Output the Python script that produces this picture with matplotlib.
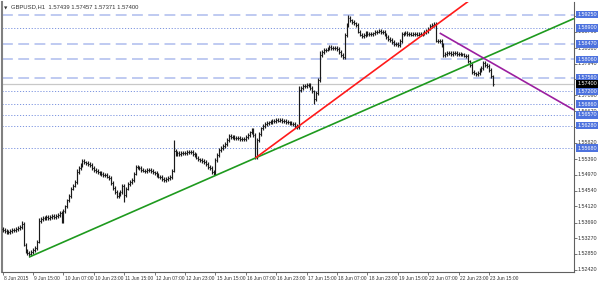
import matplotlib
matplotlib.use("Agg")
import matplotlib.pyplot as plt
import matplotlib.transforms as mtransforms
import numpy as np

plt.rcParams["font.family"] = ["Liberation Sans", "DejaVu Sans"]

# ---------------- data ----------------
closes = [
    1.5349, 1.5346, 1.5343, 1.5344, 1.5347, 1.5350, 1.5349, 1.5352, 1.5355, 1.5357,
    1.5365, 1.5310, 1.5292, 1.5288, 1.5284, 1.5290, 1.5296, 1.5300, 1.5318, 1.5372,
    1.5378, 1.5381, 1.5380, 1.5383, 1.5381, 1.5384, 1.5386, 1.5383, 1.5387, 1.5389,
    1.5394, 1.5373, 1.5400, 1.5412, 1.5428, 1.5440, 1.5460, 1.5468, 1.5478, 1.5505,
    1.5515, 1.5522, 1.5533, 1.5530, 1.5528, 1.5525, 1.5522, 1.5515, 1.5510, 1.5506,
    1.5503, 1.5501, 1.5499, 1.5497, 1.5496, 1.5492, 1.5488, 1.5475, 1.5461, 1.5450,
    1.5440, 1.5445, 1.5450, 1.5466, 1.5442, 1.5460, 1.5472, 1.5478, 1.5482, 1.5500,
    1.5517, 1.5516, 1.5514, 1.5510, 1.5508, 1.5506, 1.5509, 1.5510, 1.5507, 1.5503,
    1.5501, 1.5497, 1.5492, 1.5490, 1.5486, 1.5482, 1.5486, 1.5489, 1.5490, 1.5508,
    1.5560, 1.5552, 1.5555, 1.5553, 1.5556, 1.5554, 1.5555, 1.5558, 1.5557, 1.5557,
    1.5552, 1.5549, 1.5543, 1.5538, 1.5536, 1.5533, 1.5531, 1.5525, 1.5518, 1.5514,
    1.5505, 1.5500, 1.5536, 1.5550, 1.5563, 1.5568, 1.5573, 1.5580, 1.5590, 1.5600,
    1.5598, 1.5597, 1.5596, 1.5594, 1.5595, 1.5593, 1.5592, 1.5592, 1.5598, 1.5603,
    1.5610, 1.5616, 1.5603, 1.5545, 1.5589, 1.5605, 1.5621, 1.5627, 1.5632, 1.5635,
    1.5637, 1.5638, 1.5640, 1.5641, 1.5643, 1.5642, 1.5643, 1.5641, 1.5640, 1.5638,
    1.5637, 1.5636, 1.5634, 1.5632, 1.5628, 1.5624, 1.5723, 1.5730, 1.5734, 1.5735,
    1.5737, 1.5737, 1.5730, 1.5720, 1.5700, 1.5715, 1.5750, 1.5817, 1.5825, 1.5830,
    1.5832, 1.5835, 1.5838, 1.5837, 1.5836, 1.5836, 1.5833, 1.5825, 1.5817, 1.5811,
    1.5870, 1.5897, 1.5916, 1.5910, 1.5905, 1.5902, 1.5897, 1.5880, 1.5872, 1.5868,
    1.5870, 1.5876, 1.5874, 1.5873, 1.5873, 1.5875, 1.5878, 1.5880, 1.5881, 1.5879,
    1.5878, 1.5872, 1.5865, 1.5860, 1.5857, 1.5852, 1.5847, 1.5846, 1.5845, 1.5855,
    1.5873, 1.5875, 1.5876, 1.5874, 1.5873, 1.5872, 1.5874, 1.5873, 1.5872, 1.5874,
    1.5873, 1.5875, 1.5878, 1.5881, 1.5888, 1.5894, 1.5898, 1.5900, 1.5856, 1.5855,
    1.5854, 1.5844, 1.5817, 1.5820, 1.5822, 1.5823, 1.5821, 1.5822, 1.5822, 1.5820,
    1.5821, 1.5819, 1.5819, 1.5816, 1.5814, 1.5800, 1.5790, 1.5771, 1.5768, 1.5766,
    1.5770, 1.5778, 1.5782, 1.5795, 1.5790, 1.5787, 1.5777, 1.5760, 1.5740,
]
first_open = 1.5352
# notable wick extremes: bar index -> price
extreme_highs = {10: 1.5372, 19: 1.5380, 39: 1.5512, 42: 1.5540, 90: 1.5589,
                 119: 1.5605, 131: 1.5622, 156: 1.5735, 167: 1.5828, 182: 1.5925, 227: 1.5906}
extreme_lows = {14: 1.5277, 64: 1.5425, 111: 1.5496, 133: 1.5541, 155: 1.5618,
                164: 1.5686, 208: 1.5840, 232: 1.5812, 249: 1.5760, 258: 1.5735}

x_ticks = list(range(0, 257, 16))
x_labels = ["8 Jun 2015", "9 Jun 15:00", "10 Jun 07:00", "10 Jun 23:00", "11 Jun 15:00",
            "12 Jun 07:00", "12 Jun 23:00", "15 Jun 15:00", "16 Jun 07:00", "16 Jun 23:00",
            "17 Jun 15:00", "18 Jun 07:00", "18 Jun 23:00", "19 Jun 15:00", "22 Jun 07:00",
            "22 Jun 23:00", "23 Jun 15:00"]
y_ticks = [1.52420, 1.52850, 1.53270, 1.53690, 1.54120, 1.54540, 1.54970, 1.55390,
           1.55820, 1.56240, 1.56670, 1.57090, 1.57520, 1.57940, 1.58360, 1.58790, 1.59210]

dashed_levels = [1.59250, 1.58470, 1.58060, 1.57560]
dotted_levels = [1.58900, 1.57200, 1.56860, 1.56570, 1.56280, 1.55680]
current_price = 1.57400

green_pts = [(14, 1.52768), (133, 1.55417)]
red_pts = [(133, 1.55417), (246, 1.59645)]
purple_pts = [(230, 1.58762), (262, 1.57830)]

title = "GBPUSD,H1  1.57439 1.57457 1.57371 1.57400"

# ---------------- figure ----------------
W, H = 600, 281
fig = plt.figure(figsize=(W / 100, H / 100), dpi=100)
ax = fig.add_axes([2 / W, (H - 272) / H, (574 - 2) / W, (272 - 2) / H])
xmin, xmax = -0.37, 300.7
ymin, ymax = 1.52366, 1.59592
ax.set_xlim(xmin, xmax)
ax.set_ylim(ymin, ymax)

# level lines
for lv in dashed_levels:
    ax.axhline(lv, color="#bac6f0", lw=1.3, ls=(0, (6, 3)), zorder=1)
for lv in dotted_levels:
    ax.axhline(lv, color="#7d95e0", lw=0.7, ls=(0, (1.2, 1.8)), zorder=1)
ax.axhline(current_price, color="#c8c8c8", lw=0.9, zorder=1)

# OHLC bars
n = len(closes)
idx = np.arange(n)
opens = [first_open] + closes[:-1]
wick = 0.0005
highs = [max(o, c) + wick for o, c in zip(opens, closes)]
lows = [min(o, c) - wick for o, c in zip(opens, closes)]
for k, v in extreme_highs.items():
    highs[k] = max(highs[k], v)
for k, v in extreme_lows.items():
    lows[k] = min(lows[k], v)
ax.vlines(idx, lows, highs, color="#1a1a1a", lw=0.85, zorder=3)
ax.hlines(opens, idx - 0.45, idx, color="#1a1a1a", lw=0.7, zorder=3)
ax.hlines(closes, idx, idx + 0.45, color="#1a1a1a", lw=0.7, zorder=3)

# trend lines (rays)
def ray(pts, color):
    (x0, y0), (x1, y1) = pts
    s = (y1 - y0) / (x1 - x0)
    xe = xmax
    ax.plot([x0, xe], [y0, y0 + s * (xe - x0)], color=color, lw=1.2, zorder=4,
            solid_capstyle="butt")

ray(green_pts, "#1e9a1e")
ray(red_pts, "#ff1a1a")
ray(purple_pts, "#9b1fa0")

# spines
ax.spines["top"].set_visible(False)
ax.spines["left"].set_color("#808080")
ax.spines["left"].set_linewidth(1.5)
ax.spines["right"].set_color("#606060")
ax.spines["right"].set_linewidth(0.8)
ax.spines["bottom"].set_color("#606060")
ax.spines["bottom"].set_linewidth(0.8)

# x ticks
ax.set_xticks(x_ticks)
ax.set_xticklabels([])
ax.tick_params(axis="x", length=2.5, width=0.6, color="#606060", direction="out")
xt = mtransforms.blended_transform_factory(ax.transData, ax.transAxes)
for t, lab in zip(x_ticks, x_labels):
    ax.text(t + 0.6, -0.013, lab, transform=xt, fontsize=3.55, ha="left", va="top",
            color="#333333", clip_on=False)

# y ticks on right
ax.yaxis.tick_right()
ax.set_yticks(y_ticks)
ax.set_yticklabels([])
ax.tick_params(axis="y", length=2.0, width=0.6, color="#606060", direction="out")
yt = mtransforms.blended_transform_factory(ax.transAxes, ax.transData)
for v in y_ticks:
    ax.text(1.0065, v, f"{v:.5f}", transform=yt, fontsize=3.9, ha="left", va="center",
            color="#333333", clip_on=False, zorder=5)

# highlighted level labels
for lv in dashed_levels + dotted_levels:
    ax.text(1.0055, lv, f"{lv:.5f}", transform=yt, fontsize=3.9, ha="left", va="center",
            color="white", clip_on=False, zorder=6,
            bbox=dict(boxstyle="square,pad=0.22", fc="#4d72de", ec="none"))
ax.text(1.0055, current_price, f"{current_price:.5f}", transform=yt, fontsize=3.9,
        ha="left", va="center", color="white", clip_on=False, zorder=7,
        bbox=dict(boxstyle="square,pad=0.22", fc="black", ec="none"))

# title
ax.text(0.004, 0.982, "\u25bc", transform=ax.transAxes, fontsize=3.2, ha="left", va="top",
        color="#333333", family="DejaVu Sans")
ax.text(0.016, 0.99, title, transform=ax.transAxes, fontsize=4.2, ha="left", va="top",
        color="#333333")

fig.savefig("out.png", dpi=100, facecolor="white")
